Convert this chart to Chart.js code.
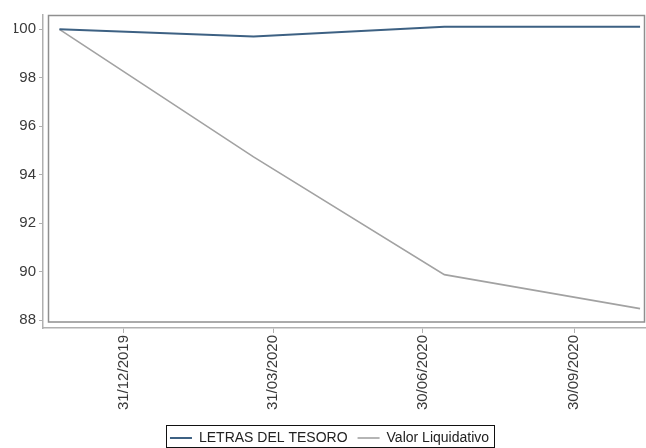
<!DOCTYPE html>
<html>
<head>
<meta charset="utf-8">
<script src="https://cdn.jsdelivr.net/npm/chart.js@4"></script>
<style>
  html, body { margin: 0; background: #fff; }
</style>
</head>
<body>
<canvas id="c" width="646" height="448"></canvas>
<script>
// fechas de las observaciones y valores (base 100)
const pointDates = ['2019-11-22', '2020-03-19', '2020-07-13', '2020-11-09'];
const letras     = [100, 99.70, 100.11, 100.11];
const valorLiq   = [100, 94.74, 89.88, 88.48];

// eje X: fin de trimestre
const tickDates  = ['2019-12-31', '2020-03-31', '2020-06-30', '2020-09-30'];
const tickLabels = ['31/12/2019', '31/03/2020', '30/06/2020', '30/09/2020'];
const xRange     = ['2019-11-12', '2020-11-12'];

// eje Y
const yTicks = [88, 90, 92, 94, 96, 98, 100];
const yRange = [87.68, 100.59];

const day = s => Date.parse(s) / 86400e3;   // fecha -> nº de día
const pts = vals => pointDates.map((d, i) => ({ x: day(d), y: vals[i] }));

const TICK_FONT = { family: '"Liberation Sans", Arial, sans-serif', size: 15 };

// marco gris del área de datos (separado de los ejes) + recuadro de la leyenda
const framePlugin = {
  id: 'frames',
  beforeDatasetsDraw(chart) {
    const { ctx, chartArea: a } = chart;
    ctx.save();
    ctx.strokeStyle = '#8f8f8f';
    ctx.lineWidth = 1.5;
    ctx.strokeRect(a.left + 5.5, a.top + 0.5, a.right - a.left - 6, a.bottom - a.top - 6.5);
    ctx.restore();
  },
  afterDraw(chart) {
    const hb = chart.legend && chart.legend.legendHitBoxes;
    if (!hb || !hb.length) return;
    const left  = Math.min(...hb.map(b => b.left)) - 4;
    const right = Math.max(...hb.map(b => b.left + b.width)) + 5;
    const top   = hb[0].top - 6;
    const bot   = hb[0].top + hb[0].height + 2;
    const ctx = chart.ctx;
    ctx.save();
    ctx.strokeStyle = '#111';
    ctx.lineWidth = 1;
    ctx.strokeRect(Math.round(left) + 0.5, Math.round(top) + 0.5, Math.round(right - left), Math.round(bot - top));
    ctx.restore();
  }
};

new Chart(document.getElementById('c').getContext('2d'), {
  type: 'line',
  data: {
    datasets: [
      {
        label: 'LETRAS DEL TESORO',
        data: pts(letras),
        borderColor: '#3d6183',
        backgroundColor: '#3d6183',
        borderWidth: 2,
        pointRadius: 0,
        tension: 0,
      },
      {
        label: 'Valor Liquidativo',
        data: pts(valorLiq),
        borderColor: '#a2a2a2',
        backgroundColor: '#a2a2a2',
        borderWidth: 1.6,
        pointRadius: 0,
        tension: 0,
      },
    ]
  },
  options: {
    responsive: false,
    animation: false,
    layout: { padding: { top: 15, right: 1, left: 14, bottom: -7 } },
    plugins: {
      tooltip: { enabled: false },
      legend: {
        position: 'bottom',
        labels: {
          usePointStyle: true,
          pointStyle: 'line',
          pointStyleWidth: 22,
          padding: 10,
          color: '#222',
          font: { family: '"Liberation Sans", Arial, sans-serif', size: 14 },
        }
      }
    },
    scales: {
      x: {
        type: 'linear',
        min: day(xRange[0]),
        max: day(xRange[1]),
        afterBuildTicks: s => { s.ticks = tickDates.map(d => ({ value: day(d) })); },
        afterFit: s => { s.height = 93; },
        ticks: {
          autoSkip: false,
          minRotation: 90,
          maxRotation: 90,
          padding: 2,
          color: '#3a3a3a',
          font: TICK_FONT,
          callback: (v, i) => tickLabels[i],
        },
        grid: { drawOnChartArea: false, tickLength: 5, color: '#b0b0b0' },
        border: { color: '#b0b0b0', width: 1.5 },
      },
      y: {
        min: yRange[0],
        max: yRange[1],
        afterBuildTicks: s => { s.ticks = yTicks.map(v => ({ value: v })); },
        afterFit: s => { s.width = 29; },
        ticks: { padding: 3, color: '#3a3a3a', font: TICK_FONT },
        grid: { drawOnChartArea: false, tickLength: 4, color: '#b0b0b0' },
        border: { color: '#b0b0b0', width: 1.5 },
      }
    }
  },
  plugins: [framePlugin]
});
</script>
</body>
</html>
